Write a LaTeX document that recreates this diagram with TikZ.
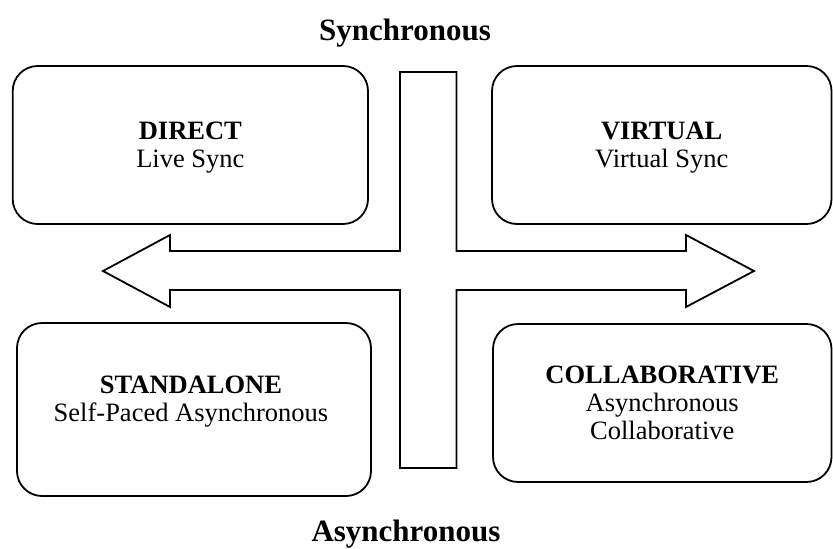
\documentclass[tikz,border=0pt]{standalone}
\usepackage{fontspec}
\setmainfont{Liberation Serif}
\begin{document}
\begin{tikzpicture}[x=1pt,y=-1pt,
  box/.style={draw=black,line width=1.8pt,rounded corners=25pt,inner sep=0pt},
  txt/.style={align=center,font=\fontsize{26.5}{28}\selectfont,inner sep=0pt},
  ttl/.style={font=\fontsize{31}{36}\selectfont\bfseries,inner sep=0pt,anchor=base},
  cross/.style={draw=black,line width=1.8pt,line join=miter,fill=white}]
\useasboundingbox (0,0) rectangle (833,549);
% boxes
\node[box,minimum width=355.3pt,minimum height=158pt] (direct) at (190.35,145) {};
\node[box,minimum width=339.5pt,minimum height=158pt] (virtual) at (661.75,145) {};
\node[box,minimum width=354pt,minimum height=173pt] (standalone) at (194,409.5) {};
\node[box,minimum width=338.5pt,minimum height=158pt] (collab) at (662.25,403) {};
% texts
\node[txt] (directtxt) at ([yshift=-2.5pt]direct.center) {\textbf{DIRECT}\\Live Sync};
\node[txt] (virtualtxt) at ([yshift=-2.5pt]virtual.center) {\textbf{VIRTUAL}\\Virtual Sync};
\node[txt] (standtxt) at ([xshift=-3pt,yshift=8pt]standalone.center) {\textbf{STANDALONE}\\Self-Paced Asynchronous};
\node[txt] (collabtxt) at (collab.center) {\textbf{COLLABORATIVE}\\Asynchronous\\Collaborative};
% titles
\node[ttl] (sync) at (405,40) {Synchronous};
\node[ttl] (async) at (406,541) {Asynchronous};
% cross with double arrow
\draw[cross] (400,72) -- (456.5,72) -- (456.5,251) -- (686,251) -- (686,235)
  -- (754,271) -- (686,307) -- (686,290) -- (456.5,290) -- (456.5,468)
  -- (400,468) -- (400,290) -- (170,290) -- (170,307) -- (103,271)
  -- (170,235) -- (170,251) -- (400,251) -- cycle;
\end{tikzpicture}
\end{document}
